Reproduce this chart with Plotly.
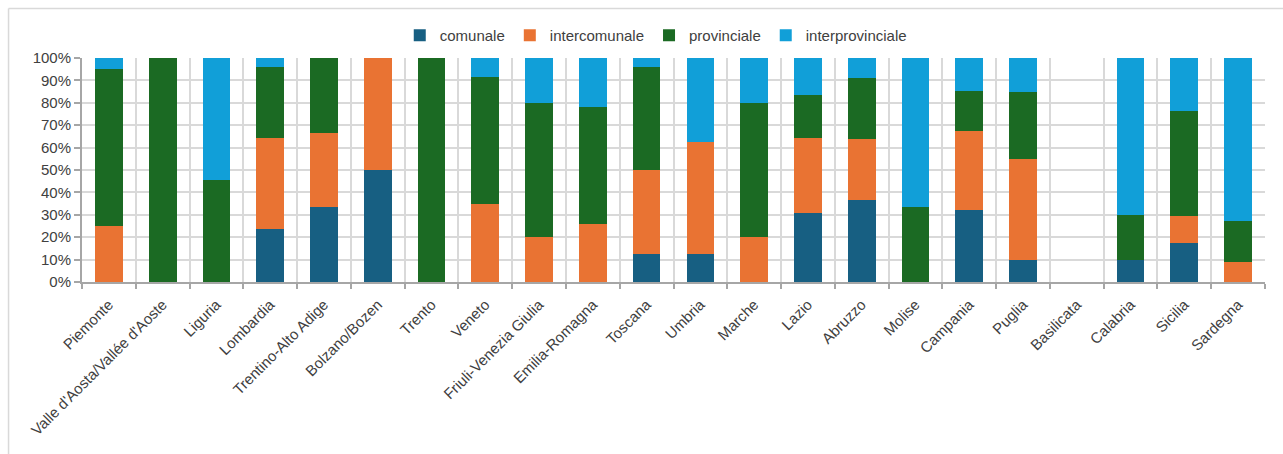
import plotly.graph_objects as go

regions = ["Piemonte", "Valle d'Aosta/Vallée d'Aoste", "Liguria", "Lombardia",
           "Trentino-Alto Adige", "Bolzano/Bozen", "Trento", "Veneto",
           "Friuli-Venezia Giulia", "Emilia-Romagna", "Toscana", "Umbria",
           "Marche", "Lazio", "Abruzzo", "Molise", "Campania", "Puglia",
           "Basilicata", "Calabria", "Sicilia", "Sardegna"]

comunale = [0, 0, 0, 23.5, 33.3, 50, 0, 0, 0, 0, 12.5, 12.5,
            0, 30.8, 36.4, 0, 32.0, 10, 0, 10, 17.6, 0]
intercomunale = [25, 0, 0, 41.0, 33.3, 50, 0, 34.8, 20, 26.1, 37.5, 50,
                 20, 33.3, 27.3, 0, 35.5, 45, 0, 0, 11.8, 9.1]
provinciale = [70, 100, 45.5, 31.5, 33.4, 0, 100, 56.5, 60, 52.2, 45.8, 0,
               60, 19.2, 27.2, 33.3, 17.7, 30, 0, 20, 47.1, 18.2]
interprovinciale = [5, 0, 54.5, 4.0, 0, 0, 0, 8.7, 20, 21.7, 4.2, 37.5,
                    20, 16.7, 9.1, 66.7, 14.8, 15, 0, 70, 23.5, 72.7]

series = [
    ("comunale", comunale, "#175f82"),
    ("intercomunale", intercomunale, "#e97333"),
    ("provinciale", provinciale, "#1b6a23"),
    ("interprovinciale", interprovinciale, "#119fd8"),
]

fig = go.Figure()
for name, vals, color in series:
    fig.add_trace(go.Bar(
        x=regions, y=vals, name=name,
        marker=dict(color=color, line=dict(width=0)),
        width=0.515,
    ))

font_family = "Liberation Sans, Arial, sans-serif"
fig.update_layout(
    barmode="stack",
    width=1283, height=454,
    margin=dict(l=82, r=18, t=58, b=172),
    paper_bgcolor="white", plot_bgcolor="white",
    font=dict(family=font_family, size=15, color="#404040"),
    showlegend=True,
    legend=dict(orientation="h", x=0.485, xanchor="center", y=1.1, yanchor="middle",
                font=dict(size=15, color="#404040"), itemwidth=30,
                traceorder="normal"),
    bargap=0.485,
    xaxis=dict(
        type="category", tickson="boundaries", showgrid=True,
        gridcolor="#d9d9d9", gridwidth=1.5,
        showline=True, linecolor="#a6a6a6", linewidth=2,
        ticks="outside", ticklen=5, tickcolor="#a6a6a6", tickwidth=1.5,
        tickangle=-45, tickfont=dict(size=15, color="#404040"),
        ticklabelstandoff=6,
    ),
    yaxis=dict(
        range=[0, 100], tickvals=list(range(0, 101, 10)),
        ticktext=[f"{v}%" for v in range(0, 101, 10)],
        showgrid=True, gridcolor="#d9d9d9", gridwidth=1.5,
        showline=True, linecolor="#a6a6a6", linewidth=2,
        ticks="outside", ticklen=6, tickcolor="#a6a6a6", tickwidth=1.5,
        tickfont=dict(size=15, color="#404040"), zeroline=False,
    ),
    shapes=[
        dict(type="line", xref="paper", yref="paper",
             x0=-0.0621, x1=1.02, y0=1.221, y1=1.221,
             line=dict(color="#d9d9d9", width=1.5)),
        dict(type="line", xref="paper", yref="paper",
             x0=-0.0621, x1=-0.0621, y0=1.221, y1=-0.8,
             line=dict(color="#d9d9d9", width=1.5)),
    ],
)

fig.write_html("out.html")
